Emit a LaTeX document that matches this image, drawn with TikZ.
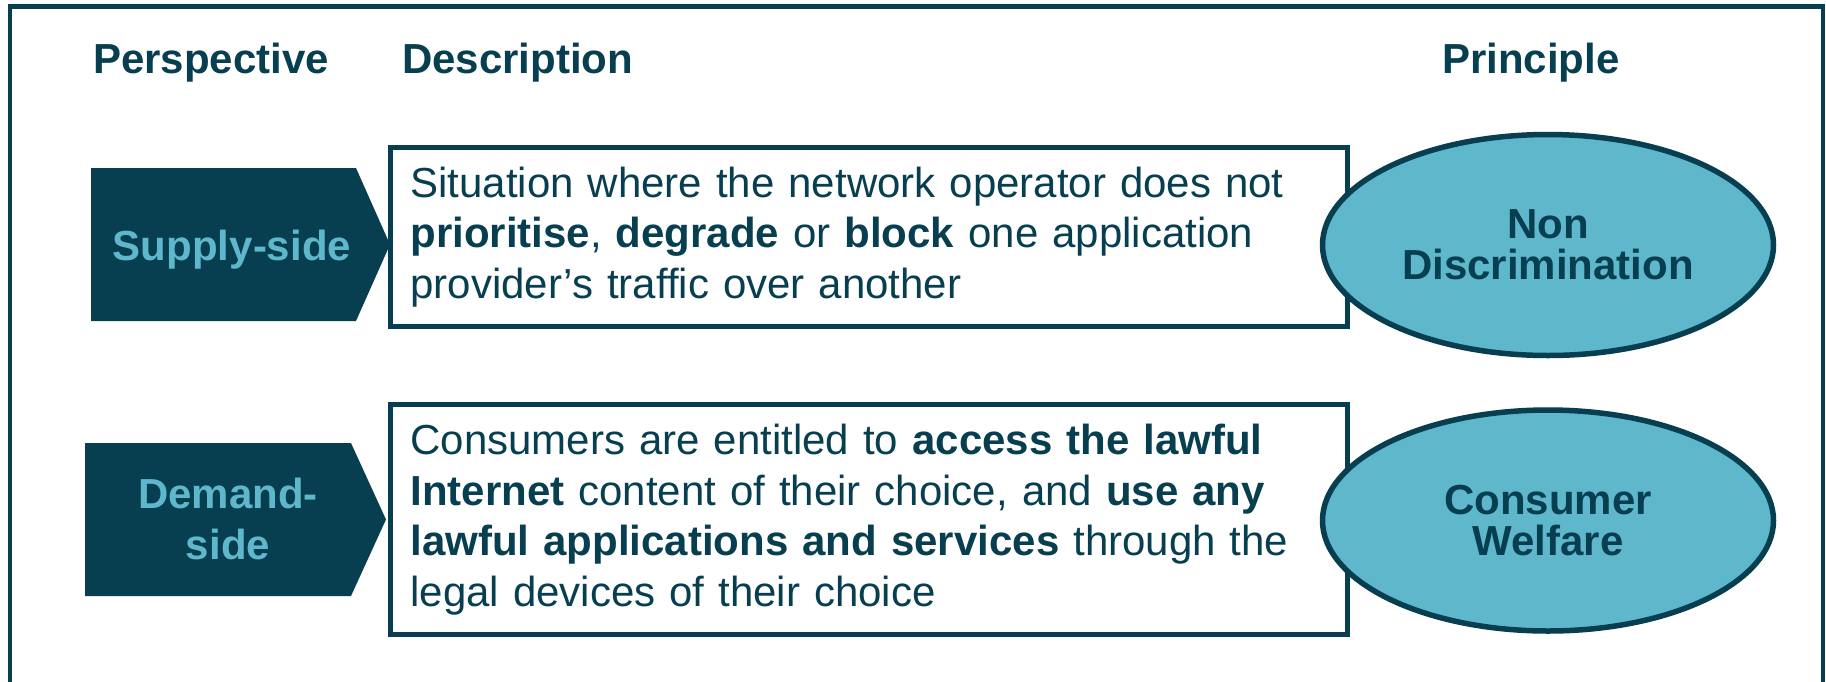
\documentclass[tikz,border=0pt]{standalone}
\usepackage{fontspec}
\setmainfont{Liberation Sans}
\usetikzlibrary{shapes.geometric}
\definecolor{dark}{HTML}{073F50}
\definecolor{light}{HTML}{5FB7CC}
\tikzset{
  hdr/.style={anchor=base west, inner sep=0pt, font=\fontsize{42pt}{50pt}\selectfont\bfseries, text=dark},
  descbox/.style={draw=dark, line width=5pt, fill=white, minimum width=956.5pt, text width=916.5pt,
    inner xsep=20pt, inner ysep=0pt, align=left, font=\fontsize{42pt}{50.5pt}\selectfont, text=dark, anchor=north west},
  princ/.style={ellipse, draw=dark, line width=5.5pt, fill=light, minimum width=451pt, minimum height=221pt,
    inner sep=0pt, align=center, font=\fontsize{42pt}{41pt}\selectfont\bfseries, text=dark},
  chev/.style={fill=dark},
  chevtext/.style={align=center, inner sep=0pt, font=\fontsize{42pt}{51pt}\selectfont\bfseries, text=light},
  frame/.style={draw=dark, line width=4.5pt},
}
\begin{document}
\begin{tikzpicture}[x=1pt,y=-1pt]
\useasboundingbox (0,0) rectangle (1826,681);
% outer frame (open at the bottom of the picture)
\draw[frame] (10,690) -- (10,6.5) -- (1823,6.5) -- (1823,690);

% headers
\node[hdr] (hpers) at (93,73) {Perspective};
\node[hdr] (hdesc) at (402,73) {Description};
\node[hdr] (hprin) at (1442,73) {Principle};

% description boxes
\node[descbox, minimum height=178.5pt] (d1) at (388,145)
  {Situation where the network operator does not\\
   \textbf{prioritise}, \textbf{degrade} or \textbf{block} one application\\
   provider’s traffic over another};
\node[descbox, minimum height=230pt] (d2) at (388,402)
  {Consumers are entitled to \textbf{access the lawful}\\
   \textbf{Internet} content of their choice, and \textbf{use any}\\
   \textbf{lawful applications and services} through the\\
   legal devices of their choice};

% chevrons
\fill[chev] (91,168) -- (356,168) -- (390,244.5) -- (356,321) -- (91,321) -- cycle;
\node[chevtext, anchor=base] (sup) at (232,260) {Supply-side};
\fill[chev] (85,443) -- (351,443) -- (386,519.5) -- (351,596) -- (85,596) -- cycle;
\node[chevtext] (dem) at (228,519) {Demand-\\side};

% principles
\node[princ] (p1) at (1548,245) {Non\\Discrimination};
\node[princ] (p2) at (1548,520.5) {Consumer\\Welfare};
\end{tikzpicture}
\end{document}
